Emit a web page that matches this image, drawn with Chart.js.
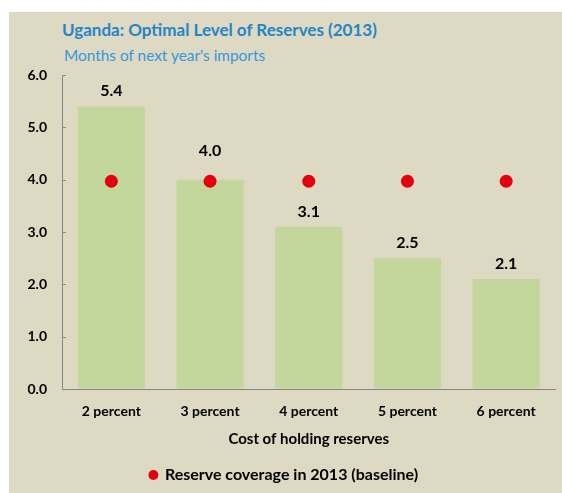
<!DOCTYPE html>
<html>
<head>
<meta charset="utf-8">
<script src="https://cdn.jsdelivr.net/npm/chart.js@4"></script>
<style>
  body { margin: 0; background: #fff; }
  #panel { position: absolute; left: 9px; top: 12px; width: 553px; height: 481px; background: #ddd9c3; }
  #chart { position: absolute; left: 0; top: 0; }
  .ttl { position: absolute; font-family: Lato, sans-serif; white-space: nowrap; }
  #title { left: 53px; top: 8.5px; font-size: 17px; line-height: 17px; font-weight: bold; color: #2585c7; }
  #subtitle { left: 55px; top: 36px; font-size: 15.4px; line-height: 15px; color: #3597dd; }
</style>
</head>
<body>
<div id="panel">
  <div id="title" class="ttl">Uganda: Optimal Level of Reserves (2013)</div>
  <div id="subtitle" class="ttl">Months of next year's imports</div>
  <canvas id="chart" width="553" height="481"></canvas>
</div>
<script>
var categories = ['2 percent', '3 percent', '4 percent', '5 percent', '6 percent']
var optimalLevel = [5.4, 4.0, 3.1, 2.5, 2.1]
var baseline2013 = [3.97, 3.97, 3.97, 3.97, 3.97]
var yTicks = [0, 1, 2, 3, 4, 5, 6]

var axisGray = '#868686'
var font = 'Lato, sans-serif'

// value labels above the bars, lifted when a dot sits on the bar top
var barLabels = {
    id: 'barLabels',
    afterDatasetsDraw: function (chart) {
        var ctx = chart.ctx
        var bars = chart.getDatasetMeta(1).data
        var dots = chart.getDatasetMeta(0).data
        ctx.save()
        ctx.font = 'bold 16px ' + font
        ctx.fillStyle = '#000'
        ctx.textAlign = 'center'
        ctx.textBaseline = 'alphabetic'
        bars.forEach(function (bar, i) {
            var y = bar.y - 10
            if (Math.abs(dots[i].y - bar.y) < 15) y = bar.y - 24
            ctx.fillText(optimalLevel[i].toFixed(1), bar.x, y)
        })
        ctx.restore()
    }
}

// small tick marks pointing into the plot
var innerTicks = {
    id: 'innerTicks',
    afterDraw: function (chart) {
        var ctx = chart.ctx
        var y = chart.scales.y
        var left = chart.chartArea.left
        ctx.save()
        ctx.strokeStyle = axisGray
        ctx.lineWidth = 1
        yTicks.forEach(function (v) {
            var py = Math.round(y.getPixelForValue(v)) + 0.5
            ctx.beginPath()
            ctx.moveTo(left, py)
            ctx.lineTo(left + 4, py)
            ctx.stroke()
        })
        ctx.restore()
    }
}

var ctx = document.getElementById('chart').getContext('2d')
var chart = new Chart(ctx, {
    type: 'bar',
    data: {
        labels: categories,
        datasets: [{
            type: 'line',
            label: 'Reserve coverage in 2013 (baseline)',
            data: baseline2013,
            showLine: false,
            pointRadius: 6.5,
            pointBackgroundColor: '#e3000f',
            pointBorderColor: '#e3000f',
            pointBorderWidth: 0,
            backgroundColor: '#e3000f',
            borderColor: '#e3000f',
            order: 1
        }, {
            type: 'bar',
            label: 'Optimal level',
            data: optimalLevel,
            backgroundColor: '#c3d69b',
            barPercentage: 0.68,
            categoryPercentage: 1,
            order: 2
        }]
    },
    options: {
        responsive: false,
        animation: false,
        layout: { padding: { top: 63, right: 3, left: 0, bottom: 0 } },
        plugins: {
            tooltip: { enabled: false },
            legend: {
                position: 'bottom',
                labels: {
                    usePointStyle: true,
                    pointStyle: 'circle',
                    boxWidth: 7,
                    boxHeight: 7,
                    padding: 11,
                    color: '#000',
                    font: { family: font, size: 16, weight: 'bold' },
                    filter: function (item) { return item.datasetIndex === 0 }
                }
            }
        },
        scales: {
            x: {
                grid: { drawOnChartArea: false, drawTicks: false },
                border: { display: true, color: axisGray, width: 1 },
                ticks: { color: '#000', padding: 14, font: { family: font, size: 14, weight: 'bold' } },
                title: {
                    display: true,
                    text: 'Cost of holding reserves',
                    color: '#000',
                    font: { family: font, size: 15, weight: 'bold' },
                    padding: { top: 0, bottom: 8 }
                },
                afterFit: function (scale) { scale.height = 67 }
            },
            y: {
                min: 0,
                max: 6,
                grid: { drawOnChartArea: false, drawTicks: false },
                border: { display: true, color: axisGray, width: 1 },
                ticks: {
                    stepSize: 1,
                    padding: 15,
                    color: '#000',
                    font: { family: font, size: 14, weight: 'bold' },
                    callback: function (v) { return v.toFixed(1) }
                },
                afterFit: function (scale) { scale.width = 53 }
            }
        }
    },
    plugins: [barLabels, innerTicks]
})
</script>
</body>
</html>
